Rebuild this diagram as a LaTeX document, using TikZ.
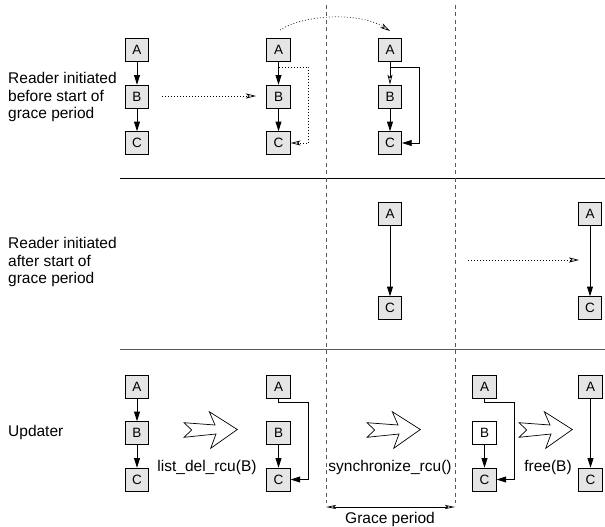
\documentclass[tikz,border=0pt]{standalone}
\usepackage{fontspec}
\setmainfont{Liberation Sans}
\usetikzlibrary{arrows.meta,calc}
\definecolor{boxgray}{gray}{0.9}
\definecolor{sepgray}{gray}{0.35}
\tikzset{
  box/.style={draw=black, line width=0.8pt, fill=boxgray, minimum width=23.5pt, minimum height=23pt, inner sep=0pt, font=\fontsize{13.5}{15}\selectfont},
  wbox/.style={box, fill=white},
  fa/.style={-{Triangle[length=9.5pt,width=6pt]}, line width=0.8pt},
  oa/.style={-{Stealth[open,length=10pt,width=5pt,inset=2.5pt]}, line width=0.7pt},
  dots/.style={dash pattern=on 0.8pt off 2.2pt, line width=0.8pt},
  gline/.style={dash pattern=on 4pt off 3.5pt, line width=0.8pt, draw=sepgray},
  lbl/.style={font=\fontsize{15.5}{17.5}\selectfont, inner sep=0pt},
  blockarrow/.pic={\draw[line width=0.7pt, fill=white, line join=miter] (0,-7.3) -- (31,-5) -- (25.3,-18.3) -- (53.3,-0.5) -- (26.7,18.3) -- (32,4) -- (0,7.3) -- (7.7,0) -- cycle;}
}
\begin{document}
\begin{tikzpicture}[x=1pt,y=-1pt]
\useasboundingbox (0,0) rectangle (605,527);
% separators
\coordinate (s1a) at (120,178.5); \coordinate (s1b) at (605,178.5);
\coordinate (s2a) at (120,349); \coordinate (s2b) at (605,349);
\draw[line width=0.8pt] (s1a) -- (s1b);
\draw[line width=0.9pt, draw=sepgray] (s2a) -- (s2b);
% grace period lines
\coordinate (gl1t) at (326,5); \coordinate (gl1b) at (326,503);
\coordinate (gl2t) at (455,5); \coordinate (gl2b) at (455,503);
\draw[gline] (gl1t) -- (gl1b);
\draw[gline] (gl2t) -- (gl2b);
\coordinate (g1) at (326,507); \coordinate (g2) at (455,507);
\draw[line width=0.7pt, {Stealth[open,length=10pt,width=4pt,inset=2pt]}-{Stealth[open,length=10pt,width=4pt,inset=2pt]}] (g1) -- (g2);
\node[lbl] (gp) at (390,519) {Grace period};
% row labels
\node[lbl, anchor=west, align=left] (t1) at (8,97) {Reader initiated\\before start of\\grace period};
\node[lbl, anchor=west, align=left] (t2) at (8,262) {Reader initiated\\after start of\\grace period};
\node[lbl, anchor=west, align=left] (t3) at (8,432) {Updater};
% row 1
\node[box] (a11) at (137,50) {A};
\node[box] (b11) at (137,96.5) {B};
\node[box] (c11) at (137,143) {C};
\node[box] (a12) at (278.5,50) {A};
\node[box] (b12) at (278.5,96.5) {B};
\node[box] (c12) at (278.5,143) {C};
\node[box] (a13) at (390,50) {A};
\node[box] (b13) at (390,96.5) {B};
\node[box] (c13) at (390,143) {C};
\draw[fa] (a11) -- (b11);
\draw[fa] (b11) -- (c11);
\draw[fa] (a12) -- (b12);
\draw[fa] (b12) -- (c12);
\coordinate (r12s) at ($(a12.south)+(0,5)$);
\draw[dots, oa] (r12s) -| ($(c12.east)+(18,0)$) -- (c12.east);
\draw[oa] (a13) -- (b13);
\draw[fa] (b13) -- (c13);
\coordinate (r13s) at ($(a13.south)+(0,6)$);
\draw[fa] (r13s) -| ($(c13.east)+(17,0)$) -- (c13.east);
\coordinate (d1s) at (162,96); \coordinate (d1e) at (256,96);
\draw[dots, oa] (d1s) -- (d1e);
\coordinate (arcs) at (280,30); \coordinate (arce) at (390,31);
\draw[dots, oa] (arcs) .. controls (305,14) and (360,12) .. (arce);
% row 2
\node[box] (a23) at (390,214) {A};
\node[box] (c23) at (390,308) {C};
\node[box] (a25) at (590,214) {A};
\node[box] (c25) at (590,308) {C};
\draw[fa] (a23) -- (c23);
\draw[fa] (a25) -- (c25);
\coordinate (d2s) at (468,260); \coordinate (d2e) at (579,260);
\draw[dots, oa] (d2s) -- (d2e);
% row 3
\node[box] (a31) at (137,386.5) {A};
\node[box] (b31) at (137,433) {B};
\node[box] (c31) at (137,479.5) {C};
\node[box] (a32) at (278.5,386.5) {A};
\node[box] (b32) at (278.5,433) {B};
\node[box] (c32) at (278.5,479.5) {C};
\node[box] (a34) at (484.5,386.5) {A};
\node[wbox] (b34) at (484.5,433) {B};
\node[box] (c34) at (484.5,479.5) {C};
\node[box] (a35) at (590.5,386.5) {A};
\node[box] (c35) at (590.5,479.5) {C};
\draw[fa] (a31) -- (b31);
\draw[fa] (b31) -- (c31);
\draw[fa] (a32.south) -- ++(0,4) -| ($(c32.east)+(18,0)$) -- (c32.east);
\draw[fa] (b32) -- (c32);
\draw[fa] (a34.south) -- ++(0,4) -| ($(c34.east)+(18,0)$) -- (c34.east);
\draw[fa] (b34) -- (c34);
\draw[fa] (a35) -- (c35);
\pic at (184,430) {blockarrow};
\pic at (367,430) {blockarrow};
\pic at (519,430) {blockarrow};
\node[lbl] (l1) at (207,467) {list\_del\_rcu(B)};
\node[lbl] (l2) at (390,467) {synchronize\_rcu()};
\node[lbl] (l3) at (548,467) {free(B)};
\end{tikzpicture}
\end{document}
